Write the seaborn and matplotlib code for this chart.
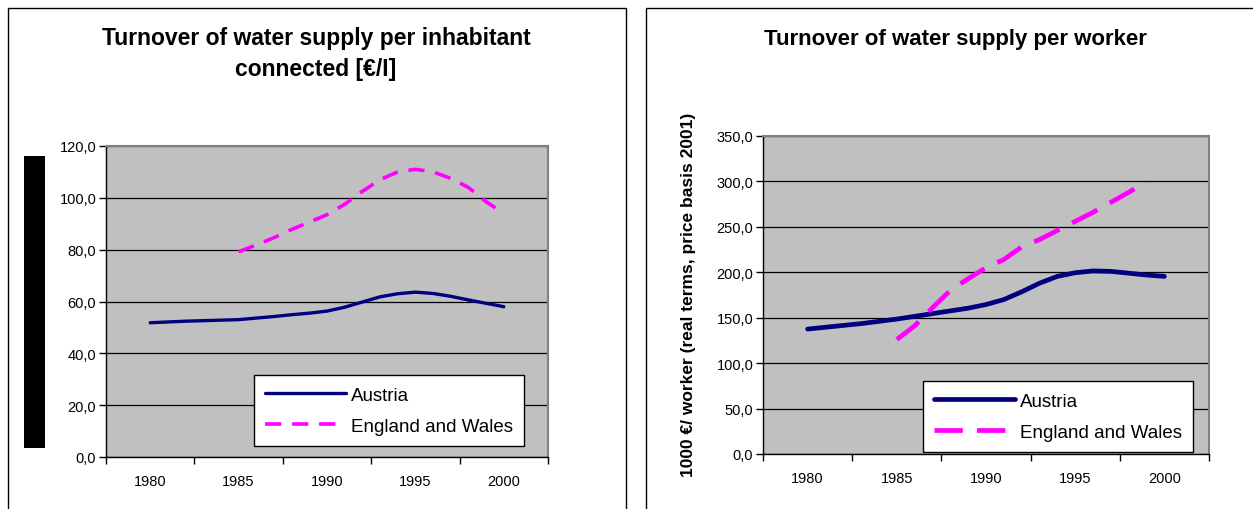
import matplotlib
matplotlib.use("Agg")
import pandas as pd
import seaborn as sns
from matplotlib import pyplot as plt
from matplotlib.patches import Rectangle
from matplotlib.ticker import FuncFormatter, FixedLocator

# values
years_austria = list(range(1980, 2001))
inhab_austria = [51.8, 52.1, 52.4, 52.6, 52.8, 53.0, 53.6, 54.2, 54.9, 55.5, 56.3,
                 57.8, 59.8, 61.8, 63.0, 63.6, 63.1, 62.0, 60.6, 59.3, 58.0]
years_england = list(range(1985, 2001))
inhab_england = [79.2, 81.8, 84.6, 87.8, 90.6, 93.5, 97.5, 102.5, 107.0, 110.0,
                 111.0, 110.0, 107.5, 104.0, 98.5, 94.0]

worker_austria = [137.5, 139.5, 141.5, 143.5, 146.0, 148.5, 151.5, 154.5, 157.5, 160.5, 164.5,
                  170.0, 178.5, 188.0, 195.5, 199.5, 201.5, 201.0, 199.0, 197.0, 195.5]
years_england_w = list(range(1985, 2000))
worker_england = [126, 141, 161, 180, 193, 205, 214, 228, 236, 246, 256, 266, 277, 288, 300]

year_labels = [1980, 1985, 1990, 1995, 2000]

sns.set_style("white")
plt.rcParams['font.family'] = ['Liberation Sans', 'DejaVu Sans']
plt.rcParams['text.color'] = 'black'
plt.rcParams['xtick.color'] = 'black'
plt.rcParams['ytick.color'] = 'black'

fig = plt.figure(figsize=(12.53, 5.10), dpi=100)

# panel frames
fig.patches.append(Rectangle((8 / 1253, -0.1), 618 / 1253, 1.1 - 9 / 510, transform=fig.transFigure,
                             fill=False, edgecolor="black", linewidth=1))
fig.patches.append(Rectangle((646 / 1253, -0.1), 620 / 1253, 1.1 - 9 / 510, transform=fig.transFigure,
                             fill=False, edgecolor="black", linewidth=1))
# black bar where the left y label would be
fig.patches.append(Rectangle((24 / 1253, 1 - 449 / 510), 21 / 1253, 292 / 510, transform=fig.transFigure,
                             facecolor="black", edgecolor="none"))

ax1 = fig.add_axes([106 / 1253, 52 / 510, 442 / 1253, 311 / 510])
ax2 = fig.add_axes([763 / 1253, 55 / 510, 446 / 1253, 318 / 510])


def style_axis(ax, ymax, step):
    ax.set_facecolor("#C0C0C0")
    ax.set_xlim(1977.5, 2002.5)
    ax.set_ylim(0, ymax)
    ax.yaxis.set_major_locator(FixedLocator([step * i for i in range(int(ymax / step) + 1)]))
    ax.yaxis.set_major_formatter(FuncFormatter(lambda v, p: f"{v:.1f}".replace(".", ",")))
    ax.grid(axis="y", color="black", linewidth=0.9)
    ax.set_axisbelow(True)
    ax.set_xticks(year_labels)
    ax.set_xticklabels([str(y) for y in year_labels])
    ax.xaxis.set_minor_locator(FixedLocator([1977.5 + 5 * i for i in range(6)]))
    ax.tick_params(axis="x", which="major", length=0, pad=12, labelsize=10.5)
    ax.tick_params(axis="x", which="minor", length=5, width=1, color="black", direction="out", bottom=True)
    ax.tick_params(axis="y", length=5, width=1, color="black", direction="out", left=True, labelsize=10.5, pad=2)
    for s in ["top", "right"]:
        ax.spines[s].set_color("#808080")
        ax.spines[s].set_linewidth(1.5)
    for s in ["left", "bottom"]:
        ax.spines[s].set_color("black")
        ax.spines[s].set_linewidth(1)
    ax.set_xlabel("")
    ax.set_ylabel("")


sns.lineplot(x=years_austria, y=inhab_austria, ax=ax1, color="#000080", linewidth=2.4, label="Austria")
sns.lineplot(x=years_england, y=inhab_england, ax=ax1, color="#FF00FF", linewidth=2.6,
             linestyle=(0, (4.5, 3)), label="England and Wales")
style_axis(ax1, 120, 20)

sns.lineplot(x=years_austria, y=worker_austria, ax=ax2, color="#000080", linewidth=3.4, label="Austria")
sns.lineplot(x=years_england_w, y=worker_england, ax=ax2, color="#FF00FF", linewidth=3.4,
             linestyle=(0, (6, 3)), label="England and Wales")
style_axis(ax2, 350, 50)

for ax, anchor in [(ax1, (0.335, 0.035)), (ax2, (0.359, 0.006))]:
    leg = ax.legend(loc="lower left", bbox_to_anchor=anchor, fontsize=13.5, frameon=True,
                    fancybox=False, handlelength=4.3, handletextpad=0.25, borderpad=0.6,
                    labelspacing=0.75, borderaxespad=0)
    leg.get_frame().set_edgecolor("black")
    leg.get_frame().set_linewidth(1)
    leg.get_frame().set_facecolor("white")
    leg.get_frame().set_alpha(1)

fig.text(316 / 1253, 1 - 54 / 510, "Turnover of water supply per inhabitant\nconnected [€/I]",
         ha="center", va="center", fontsize=16.5, fontweight="bold", linespacing=1.4)
fig.text(955 / 1253, 1 - 40 / 510, "Turnover of water supply per worker",
         ha="center", va="center", fontsize=16, fontweight="bold")
fig.text(689 / 1253, 1 - 295 / 510, "1000 €/ worker (real terms, price basis 2001)",
         ha="center", va="center", rotation=90, fontsize=12.5, fontweight="bold")

fig.savefig("out.png", dpi=100)
